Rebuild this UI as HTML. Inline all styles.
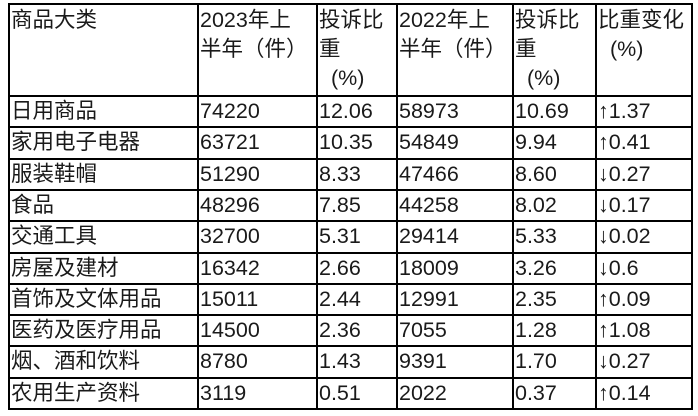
<!DOCTYPE html>
<html><head><meta charset="utf-8"><style>
body{margin:0;width:698px;height:416px;background:#fff;position:relative;overflow:hidden;font-family:"Liberation Sans","Noto Sans CJK SC",sans-serif;font-size:21.5px;color:#1a1a1a}
.h,.v{position:absolute;background:#000}
.h{height:2px}.v{width:2px}
.c{position:absolute;white-space:nowrap;line-height:29px}
</style></head><body>
<div id="g"></div>
<script>
const cols=[8,197,316,396,512,595,691];
const rows=[3,95];for(let i=1;i<=10;i++)rows.push(Math.round(95+i*31.3));
let h='';
rows.forEach(y=>h+=`<div class="h" style="left:8px;top:${y}px;width:685px"></div>`);
cols.forEach(x=>h+=`<div class="v" style="left:${x}px;top:3px;height:407px"></div>`);
const head=["商品大类","2023年上<br>半年（件）","投诉比<br>重<br>&nbsp;&nbsp;(%)","2022年上<br>半年（件）","投诉比<br>重<br>&nbsp;&nbsp;(%)","比重变化<br>&nbsp;&nbsp;(%)"];
head.forEach((t,i)=>h+=`<div class="c" style="left:${cols[i]+3}px;top:6px">${t}</div>`);
const d=[["日用商品","74220","12.06","58973","10.69","↑1.37"],["家用电子电器","63721","10.35","54849","9.94","↑0.41"],["服装鞋帽","51290","8.33","47466","8.60","↓0.27"],["食品","48296","7.85","44258","8.02","↓0.17"],["交通工具","32700","5.31","29414","5.33","↓0.02"],["房屋及建材","16342","2.66","18009","3.26","↓0.6"],["首饰及文体用品","15011","2.44","12991","2.35","↑0.09"],["医药及医疗用品","14500","2.36","7055","1.28","↑1.08"],["烟、酒和饮料","8780","1.43","9391","1.70","↓0.27"],["农用生产资料","3119","0.51","2022","0.37","↑0.14"]];
d.forEach((r,j)=>r.forEach((t,i)=>h+=`<div class="c" style="left:${cols[i]+3}px;top:${rows[j+1]+2}px">${t}</div>`));
document.getElementById('g').innerHTML=h;
</script>
</body></html>
